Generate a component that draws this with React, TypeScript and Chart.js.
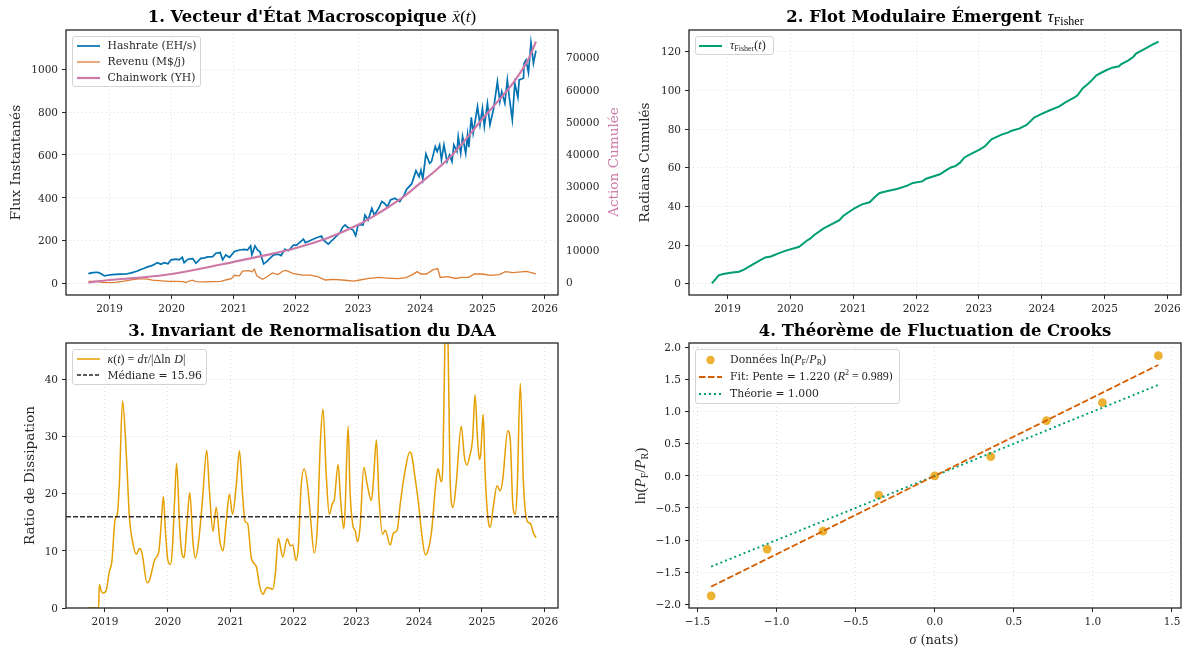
import { useEffect, useRef } from "react"
import type { ReactNode } from "react"
import { Chart, registerables } from "chart.js"

Chart.register(...registerables)

const SERIF = "'DejaVu Serif', serif"
const MATH = "'Liberation Serif', serif"
const INK = "#262626"

const yearTicks = [2019, 2020, 2021, 2022, 2023, 2024, 2025, 2026]

// Panel 1
const hashrateYears = [
  2018.66, 2018.73, 2018.81, 2018.85, 2018.92, 2018.97, 2019.05, 2019.16, 2019.27, 2019.35, 2019.45, 2019.49, 2019.56,
  2019.61, 2019.67, 2019.72, 2019.77, 2019.83, 2019.88, 2019.94, 2019.99, 2020.07, 2020.12, 2020.17, 2020.2, 2020.26,
  2020.34, 2020.39, 2020.47, 2020.53, 2020.58, 2020.66, 2020.71, 2020.78, 2020.82, 2020.87, 2020.93, 2021.01, 2021.09,
  2021.17, 2021.22, 2021.27, 2021.29, 2021.34, 2021.38, 2021.42, 2021.48, 2021.53, 2021.58, 2021.64, 2021.72, 2021.76,
  2021.82, 2021.88, 2021.96, 2022.01, 2022.12, 2022.15, 2022.23, 2022.31, 2022.41, 2022.44, 2022.52, 2022.6, 2022.71,
  2022.75, 2022.79, 2022.83, 2022.92, 2022.96, 2023.0, 2023.08, 2023.11, 2023.16, 2023.22, 2023.26, 2023.33, 2023.38,
  2023.42, 2023.47, 2023.52, 2023.59, 2023.67, 2023.74, 2023.78, 2023.86, 2023.89, 2023.93, 2023.98, 2024.01, 2024.04,
  2024.09, 2024.15, 2024.18, 2024.24, 2024.27, 2024.31, 2024.34, 2024.38, 2024.43, 2024.47, 2024.51, 2024.54, 2024.59,
  2024.61, 2024.65, 2024.68, 2024.73, 2024.76, 2024.78, 2024.82, 2024.85, 2024.92, 2024.96, 2025.0, 2025.03, 2025.08,
  2025.12, 2025.18, 2025.24, 2025.28, 2025.31, 2025.36, 2025.4, 2025.43, 2025.48, 2025.52, 2025.57, 2025.59, 2025.66,
  2025.67, 2025.7, 2025.74, 2025.78, 2025.82, 2025.86,
]
const hashrateValues = [
  47, 51, 53, 48, 36, 39, 42, 44, 45, 50, 59, 65, 72, 78, 83, 89, 98, 90, 98, 93, 111, 114, 111, 123, 98, 114, 117, 95,
  118, 120, 125, 126, 142, 145, 111, 134, 123, 150, 157, 160, 157, 176, 134, 176, 157, 149, 92, 103, 118, 134, 137, 131,
  160, 154, 180, 180, 208, 191, 201, 212, 222, 204, 184, 207, 238, 263, 274, 263, 250, 224, 274, 274, 320, 297, 351, 320,
  351, 383, 375, 359, 390, 398, 383, 414, 440, 465, 491, 527, 499, 530, 487, 605, 561, 569, 639, 616, 647, 577, 647, 569,
  600, 569, 647, 616, 686, 608, 686, 608, 694, 636, 776, 701, 826, 740, 818, 732, 841, 740, 818, 942, 849, 896, 841, 950,
  872, 764, 935, 869, 950, 958, 1028, 1043, 984, 1124, 1028, 1087,
]
const revenueYears = [
  2018.66, 2018.78, 2018.89, 2019.0, 2019.1, 2019.26, 2019.37, 2019.48, 2019.59, 2019.69, 2019.83, 2019.96, 2020.07,
  2020.19, 2020.22, 2020.33, 2020.39, 2020.55, 2020.66, 2020.79, 2020.87, 2020.96, 2021.01, 2021.09, 2021.14, 2021.24,
  2021.29, 2021.33, 2021.37, 2021.46, 2021.54, 2021.62, 2021.71, 2021.79, 2021.84, 2021.95, 2022.1, 2022.23, 2022.35,
  2022.47, 2022.6, 2022.75, 2022.93, 2023.03, 2023.15, 2023.33, 2023.46, 2023.64, 2023.77, 2023.86, 2023.95, 2024.01,
  2024.1, 2024.2, 2024.28, 2024.32, 2024.44, 2024.57, 2024.66, 2024.78, 2024.87, 2025.0, 2025.12, 2025.27, 2025.37,
  2025.49, 2025.71, 2025.86,
]
const revenueValues = [
  11, 11, 6, 5, 6, 13, 19, 22, 22, 16, 13, 11, 11, 9, 5, 16, 9, 8, 9, 11, 17, 23, 39, 36, 58, 61, 55, 67, 36, 20, 33, 50,
  42, 59, 62, 48, 40, 40, 33, 17, 20, 17, 12, 17, 23, 29, 26, 23, 28, 40, 56, 45, 45, 64, 70, 29, 33, 24, 29, 29, 45, 45,
  39, 42, 56, 51, 57, 45,
]
const chainworkYears = [
  2018.66, 2019, 2019.5, 2020, 2020.5, 2021, 2021.5, 2022, 2022.5, 2023, 2023.25, 2023.5, 2023.75, 2024, 2024.25, 2024.5,
  2024.75, 2025, 2025.25, 2025.5, 2025.75, 2025.86,
]
const chainworkValues = [
  50, 840, 1600, 2700, 4500, 6500, 8500, 10800, 13800, 18000, 20700, 23700, 27000, 31000, 35000, 39500, 45000, 51000,
  56500, 62300, 70000, 75000,
]

// Panel 2
const fisherYears = [
  2018.75, 2018.79, 2018.86, 2018.93, 2019.05, 2019.18, 2019.27, 2019.39, 2019.48, 2019.6, 2019.69, 2019.81, 2019.93,
  2020.14, 2020.26, 2020.32, 2020.38, 2020.53, 2020.78, 2020.84, 2021.02, 2021.14, 2021.26, 2021.35, 2021.42, 2021.53,
  2021.71, 2021.86, 2021.95, 2022.1, 2022.16, 2022.38, 2022.5, 2022.56, 2022.62, 2022.7, 2022.77, 2022.86, 2023.01,
  2023.1, 2023.2, 2023.37, 2023.46, 2023.52, 2023.64, 2023.76, 2023.88, 2023.98, 2024.13, 2024.28, 2024.37, 2024.52,
  2024.57, 2024.65, 2024.76, 2024.87, 2025.0, 2025.12, 2025.23, 2025.26, 2025.38, 2025.46, 2025.5, 2025.61, 2025.76,
  2025.86,
]
const fisherValues = [
  0.2, 1.6, 4.3, 5, 5.7, 6.2, 7.4, 9.7, 11.4, 13.6, 14.1, 15.7, 17.1, 19.1, 22.2, 23.4, 25.2, 28.6, 32.9, 35, 39, 41,
  42.1, 45, 46.9, 47.8, 49.1, 50.7, 52.1, 52.9, 54.3, 56.6, 59.1, 60.2, 60.7, 62.6, 65.3, 66.9, 69.3, 71.2, 74.7, 77.2,
  78.1, 79.1, 80.2, 82.1, 85.9, 87.6, 89.7, 91.7, 93.6, 96.4, 97.4, 101, 104, 107.8, 110, 111.7, 112.4, 113.4, 115.5,
  117.4, 119, 120.9, 123.6, 125.2,
]

// Panel 3
const kappaYears = [
  2018.73, 2018.9, 2018.91, 2018.94, 2018.97, 2019.02, 2019.07, 2019.11, 2019.16, 2019.2, 2019.23, 2019.28, 2019.34,
  2019.39, 2019.43, 2019.5, 2019.55, 2019.59, 2019.67, 2019.71, 2019.79, 2019.86, 2019.89, 2019.93, 2019.96, 2020.0,
  2020.04, 2020.07, 2020.11, 2020.14, 2020.19, 2020.22, 2020.26, 2020.3, 2020.35, 2020.4, 2020.44, 2020.49, 2020.55,
  2020.62, 2020.66, 2020.72, 2020.77, 2020.83, 2020.88, 2020.93, 2020.98, 2021.03, 2021.09, 2021.14, 2021.19, 2021.23,
  2021.27, 2021.33, 2021.41, 2021.46, 2021.51, 2021.58, 2021.67, 2021.71, 2021.76, 2021.83, 2021.9, 2021.95, 2021.99,
  2022.04, 2022.08, 2022.12, 2022.17, 2022.23, 2022.27, 2022.33, 2022.38, 2022.43, 2022.47, 2022.52, 2022.57, 2022.62,
  2022.65, 2022.71, 2022.75, 2022.8, 2022.82, 2022.87, 2022.9, 2022.95, 2022.98, 2023.02, 2023.06, 2023.12, 2023.17,
  2023.24, 2023.27, 2023.32, 2023.36, 2023.42, 2023.46, 2023.54, 2023.59, 2023.65, 2023.7, 2023.77, 2023.85, 2023.88,
  2023.94, 2023.99, 2024.04, 2024.1, 2024.15, 2024.2, 2024.26, 2024.3, 2024.35, 2024.38, 2024.41, 2024.43, 2024.46,
  2024.49, 2024.54, 2024.59, 2024.67, 2024.72, 2024.76, 2024.81, 2024.85, 2024.89, 2024.93, 2024.96, 2024.98, 2025.02,
  2025.05, 2025.11, 2025.13, 2025.18, 2025.24, 2025.29, 2025.33, 2025.41, 2025.45, 2025.49, 2025.53, 2025.56, 2025.61,
  2025.66, 2025.72, 2025.77, 2025.82, 2025.86,
]
const kappaValues = [
  0, 0, 4.1, 3, 2.6, 3.1, 6.4, 8.1, 15.4, 16.6, 22, 36.2, 26.8, 15.7, 12.2, 9.4, 10.4, 9.6, 4.4, 4.9, 8.4, 10.1, 13.9,
  19.5, 13.9, 8.4, 7.6, 9.9, 19.2, 25.3, 13.9, 9.9, 8.8, 13.9, 20.2, 11.6, 8.7, 11.6, 18.6, 27.6, 20.9, 13.4, 17.6, 11.6,
  10, 15.1, 19.9, 16.4, 21.5, 27.5, 19.8, 15.1, 14.8, 8.7, 7.2, 4, 2.4, 3.6, 3.3, 5.8, 12.2, 8.9, 12.1, 10.9, 11, 8.3,
  11, 20.9, 24.3, 20.9, 16, 9.6, 14.2, 29.4, 34.8, 23.6, 16.4, 18.3, 18.9, 25.1, 18.9, 13.9, 16.6, 31.8, 20.6, 14.2,
  13.6, 11.6, 14.2, 24.6, 21.8, 18.8, 21.8, 29.4, 19.5, 12.9, 13.6, 11, 13.1, 13.6, 18.3, 23.6, 27.3, 26.8, 22.4, 18.3,
  13.1, 9.3, 10.4, 13.6, 21.2, 24.4, 22.1, 25.9, 46.3, 49, 46.3, 23.6, 17.6, 21.8, 31.8, 26.5, 25, 26.8, 29.4, 37.3,
  29.4, 26, 27, 33.9, 23.6, 14.5, 14.1, 17.7, 21.4, 20.5, 22.4, 31, 29.4, 18.3, 16.4, 20.6, 39.3, 21.8, 15.2, 14.8, 13.1,
  12.3,
]
const medianYears = [2018.38, 2026.21]
const medianValues = [15.96, 15.96]

// Panel 4
const sigmaValues = [-1.414, -1.06, -0.707, -0.354, 0, 0.354, 0.707, 1.06, 1.414]
const crooksValues = [-1.87, -1.14, -0.86, -0.3, 0, 0.3, 0.86, 1.14, 1.87]
const lineSigma = [-1.414, 1.414]
const fitValues = [-1.725, 1.725]
const theoryValues = [-1.414, 1.414]

const pairs = (xs: number[], ys: number[]) => xs.map((x, i) => ({ x, y: ys[i] }))
const minus = (s: string) => s.replace("-", "\u2212")

const framePlugin = {
  id: "frame",
  afterDatasetsDraw(chart: any) {
    const { ctx, chartArea: a } = chart
    ctx.save()
    ctx.strokeStyle = INK
    ctx.lineWidth = 1.3
    ctx.strokeRect(a.left, a.top, a.right - a.left, a.bottom - a.top)
    ctx.restore()
  },
}

const tickFont = { family: SERIF, size: 10.5 }
const gridStyle = { color: "rgba(0,0,0,0.13)", lineWidth: 1, tickColor: INK, tickLength: 4, tickBorderDash: [] as number[] }
const borderStyle = { display: false, dash: [1, 3] }

function xYearAxis(min: number, max: number, canvasH: number, bottom: number) {
  return {
    type: "linear",
    min,
    max,
    grid: gridStyle,
    border: borderStyle,
    ticks: { color: INK, font: tickFont, padding: 4, maxRotation: 0, callback: (v: any) => String(v) },
    afterBuildTicks: (s: any) => {
      s.ticks = yearTicks.map((value) => ({ value }))
    },
    afterFit: (s: any) => {
      s.height = canvasH - bottom
    },
  }
}

function yAxis(min: number, max: number, ticks: number[], width: number, title?: any, right = false, fmt?: (v: number) => string) {
  return {
    type: "linear",
    position: right ? "right" : "left",
    min,
    max,
    grid: right ? { display: false, drawOnChartArea: false, tickColor: INK, tickLength: 4 } : gridStyle,
    border: right ? { display: false } : borderStyle,
    title,
    ticks: { color: INK, font: tickFont, padding: 4, labelOffset: 1, callback: (v: any) => (fmt ? fmt(v) : String(v)) },
    afterBuildTicks: (s: any) => {
      s.ticks = ticks.map((value) => ({ value }))
    },
    afterFit: (s: any) => {
      s.width = width
    },
  }
}

const axisTitle = (text: string, pad: number) => ({
  display: true,
  text,
  color: INK,
  font: { family: SERIF, size: 13.6 },
  padding: { top: pad, bottom: 0 },
})

function ChartCanvas({ left, top, width, height, make }: { left: number; top: number; width: number; height: number; make: () => any }) {
  const ref = useRef<HTMLCanvasElement>(null)
  useEffect(() => {
    if (!ref.current) return
    const chart = new Chart(ref.current, make())
    return () => chart.destroy()
  }, [])
  return <canvas ref={ref} width={width} height={height} style={{ position: "absolute", left, top, width, height }} />
}

function Title({ cx, y, children }: { cx: number; y: number; children: ReactNode }) {
  return (
    <div
      style={{
        position: "absolute",
        left: cx - 300,
        width: 600,
        top: y - 11.5,
        height: 24,
        lineHeight: "24px",
        textAlign: "center",
        fontFamily: SERIF,
        fontWeight: 700,
        fontSize: 16.4,
        color: "#000",
        whiteSpace: "nowrap",
      }}
    >
      {children}
    </div>
  )
}

const M = ({ children, size }: { children: ReactNode; size?: number }) => (
  <span style={{ fontFamily: MATH, fontWeight: 400, fontStyle: "italic", fontSize: size }}>{children}</span>
)
const Up = ({ children, size }: { children: ReactNode; size?: number }) => (
  <span style={{ fontFamily: MATH, fontWeight: 400, fontStyle: "normal", fontSize: size }}>{children}</span>
)
const Sub = ({ children, size = 9 }: { children: ReactNode; size?: number }) => (
  <span style={{ fontFamily: MATH, fontWeight: 400, fontStyle: "normal", fontSize: size, position: "relative", top: "0.25em" }}>{children}</span>
)

type Row = { label: ReactNode; color?: string; w?: number; dash?: string; dot?: boolean; alpha?: number }

function Legend({ left, top, width, rows, step, sample = 23 }: { left: number; top: number; width: number; rows: Row[]; step: number; sample?: number }) {
  const pad = 9
  return (
    <div
      style={{
        position: "absolute",
        left,
        top,
        width,
        height: rows.length * step + 3,
        boxSizing: "border-box",
        background: "rgba(255,255,255,0.85)",
        border: "1px solid #d4d4d4",
        borderRadius: 3,
        fontFamily: SERIF,
        fontSize: 10.8,
        color: INK,
      }}
    >
      {rows.map((r, i) => (
        <div key={i} style={{ position: "absolute", left: 0, right: 0, top: 1 + i * step, height: step, display: "flex", alignItems: "center", whiteSpace: "nowrap" }}>
          <svg width={sample} height={10} style={{ marginLeft: 3.5, marginRight: pad - 1, flex: "none" }}>
            {r.dot ? (
              <circle cx={sample / 2} cy={5} r={4.2} fill={r.color} fillOpacity={0.8} />
            ) : (
              <line x1={0} x2={sample} y1={5} y2={5} stroke={r.color} strokeWidth={r.w} strokeDasharray={r.dash} strokeOpacity={r.alpha ?? 1} />
            )}
          </svg>
          <span>{r.label}</span>
        </div>
      ))}
    </div>
  )
}

export default function App() {
  const panel1 = () => ({
    type: "line",
    data: {
      datasets: [
        { label: "Hashrate (EH/s)", data: pairs(hashrateYears, hashrateValues), borderColor: "#0072B2", borderWidth: 1.7, pointRadius: 0, yAxisID: "y", order: 1 },
        { label: "Revenu (M$/j)", data: pairs(revenueYears, revenueValues), borderColor: "rgba(213,94,0,0.8)", borderWidth: 1.3, pointRadius: 0, yAxisID: "y", order: 2 },
        { label: "Chainwork (YH)", data: pairs(chainworkYears, chainworkValues), borderColor: "#CC79A7", borderWidth: 2.2, pointRadius: 0, yAxisID: "y1", order: 0, cubicInterpolationMode: "monotone" },
      ],
    },
    options: {
      animation: false,
      responsive: false,
      layout: { padding: { top: 30, right: 0, left: 0, bottom: 0 } },
      plugins: { legend: { display: false }, title: { display: false }, tooltip: { enabled: false } },
      scales: {
        x: xYearAxis(2018.3, 2026.215, 320, 295),
        y: yAxis(-53, 1183, [0, 200, 400, 600, 800, 1000], 66, axisTitle("Flux Instantanés", 8)),
        y1: yAxis(-3827, 78620, [0, 10000, 20000, 30000, 40000, 50000, 60000, 70000], 67, undefined, true),
      },
    },
    plugins: [framePlugin],
  })

  const panel2 = () => ({
    type: "line",
    data: {
      datasets: [{ label: "tau", data: pairs(fisherYears, fisherValues), borderColor: "#009E73", borderWidth: 2, pointRadius: 0 }],
    },
    options: {
      animation: false,
      responsive: false,
      layout: { padding: { top: 30, right: 14, left: 0, bottom: 0 } },
      plugins: { legend: { display: false }, title: { display: false }, tooltip: { enabled: false } },
      scales: {
        x: xYearAxis(2018.387, 2026.216, 320, 295),
        y: yAxis(-5.85, 131.2, [0, 20, 40, 60, 80, 100, 120], 64, axisTitle("Radians Cumulés", 12)),
      },
    },
    plugins: [framePlugin],
  })

  const panel3 = () => ({
    type: "line",
    data: {
      datasets: [
        { label: "kappa", data: pairs(kappaYears, kappaValues), borderColor: "#E69F00", borderWidth: 1.5, pointRadius: 0, order: 1, cubicInterpolationMode: "monotone" },
        { label: "Médiane = 15.96", data: pairs(medianYears, medianValues), borderColor: "rgba(0,0,0,0.8)", borderWidth: 1.4, borderDash: [5, 2], pointRadius: 0, order: 0 },
      ],
    },
    options: {
      animation: false,
      responsive: false,
      layout: { padding: { top: 23, right: 67, left: 0, bottom: 0 } },
      plugins: { legend: { display: false }, title: { display: false }, tooltip: { enabled: false } },
      scales: {
        x: xYearAxis(2018.38, 2026.21, 332, 288),
        y: yAxis(0, 46.35, [0, 10, 20, 30, 40], 66, axisTitle("Ratio de Dissipation", 22)),
      },
    },
    plugins: [framePlugin],
  })

  const panel4 = () => ({
    type: "scatter",
    data: {
      datasets: [
        { label: "Données", data: pairs(sigmaValues, crooksValues), backgroundColor: "rgba(230,159,0,0.8)", borderWidth: 0, pointRadius: 4.4, order: 2 },
        { label: "Fit", data: pairs(lineSigma, fitValues), showLine: true, borderColor: "#D55E00", borderWidth: 1.8, borderDash: [6.5, 2.5], pointRadius: 0, order: 0 },
        { label: "Théorie", data: pairs(lineSigma, theoryValues), showLine: true, borderColor: "#009E73", borderWidth: 1.9, borderDash: [2, 3], pointRadius: 0, order: 1 },
      ],
    },
    options: {
      animation: false,
      responsive: false,
      layout: { padding: { top: 23, right: 14, left: 0, bottom: 0 } },
      plugins: { legend: { display: false }, title: { display: false }, tooltip: { enabled: false } },
      scales: {
        x: {
          type: "linear",
          min: -1.554,
          max: 1.557,
          grid: gridStyle,
          border: borderStyle,
          ticks: { color: INK, font: tickFont, padding: 4, maxRotation: 0, callback: (v: any) => minus(Number(v).toFixed(1)) },
          afterBuildTicks: (s: any) => {
            s.ticks = [-1.5, -1, -0.5, 0, 0.5, 1, 1.5].map((value) => ({ value }))
          },
          afterFit: (s: any) => {
            s.height = 332 - 288
          },
        },
        y: yAxis(-2.058, 2.067, [-2, -1.5, -1, -0.5, 0, 0.5, 1, 1.5, 2], 64, undefined, false, (v) => minus(v.toFixed(1))),
      },
    },
    plugins: [framePlugin],
  })

  return (
    <div style={{ position: "absolute", left: 0, top: 0, width: 1195, height: 652, background: "#fff", overflow: "hidden" }}>
      <ChartCanvas left={0} top={0} width={625} height={320} make={panel1} />
      <ChartCanvas left={625} top={0} width={570} height={320} make={panel2} />
      <ChartCanvas left={0} top={320} width={625} height={332} make={panel3} />
      <ChartCanvas left={625} top={320} width={570} height={332} make={panel4} />

      <Title cx={312} y={16}>
        1. Vecteur d'État Macroscopique{" "}
        <span style={{ position: "relative", display: "inline-block" }}>
          <M size={17}>x</M>
          <span style={{ position: "absolute", left: -1, top: 1, width: "120%", height: 8, lineHeight: "8px", textAlign: "center", fontFamily: MATH, fontWeight: 400, fontSize: 9 }}>→</span>
        </span>
        <Up size={17}>(</Up>
        <M size={17}>t</M>
        <Up size={17}>)</Up>
      </Title>
      <Title cx={935} y={16}>
        2. Flot Modulaire Émergent <M size={17}>τ</M>
        <Sub size={12}>Fisher</Sub>
      </Title>
      <Title cx={312} y={330}>3. Invariant de Renormalisation du DAA</Title>
      <Title cx={935} y={330}>4. Théorème de Fluctuation de Crooks</Title>

      <Legend
        left={72}
        top={35.5}
        width={129}
        step={16}
        rows={[
          { label: "Hashrate (EH/s)", color: "#0072B2", w: 1.7 },
          { label: "Revenu (M$/j)", color: "#D55E00", w: 1.3, alpha: 0.8 },
          { label: "Chainwork (YH)", color: "#CC79A7", w: 2.2 },
        ]}
      />
      <Legend
        left={694.5}
        top={35.5}
        width={79}
        step={16.5}
        rows={[
          {
            label: (
              <span style={{ fontSize: 12 }}>
                <M>τ</M>
                <Sub size={8}>Fisher</Sub>
                <Up>(</Up>
                <M>t</M>
                <Up>)</Up>
              </span>
            ),
            color: "#009E73",
            w: 2,
          },
        ]}
      />
      <Legend
        left={72}
        top={349}
        width={135}
        step={16.3}
        rows={[
          {
            label: (
              <span style={{ fontSize: 12 }}>
                <M>κ</M>
                <Up>(</Up>
                <M>t</M>
                <Up>) = </Up>
                <M>dτ</M>
                <Up>/|Δln</Up> <M>D</M>
                <Up>|</Up>
              </span>
            ),
            color: "#E69F00",
            w: 1.5,
          },
          { label: "Médiane = 15.96", color: "#000", w: 1.4, dash: "4,2", alpha: 0.85 },
        ]}
      />
      <Legend
        left={694.5}
        top={349}
        width={205}
        step={17.2}
        rows={[
          {
            label: (
              <>
                Données{" "}
                <span style={{ fontSize: 12 }}>
                  <Up>ln(</Up>
                  <M>P</M>
                  <Sub size={8}>F</Sub>
                  <Up>/</Up>
                  <M>P</M>
                  <Sub size={8}>R</Sub>
                  <Up>)</Up>
                </span>
              </>
            ),
            color: "#E69F00",
            dot: true,
          },
          {
            label: (
              <>
                Fit: Pente = 1.220 (
                <span style={{ fontSize: 12 }}>
                  <M>R</M>
                  <sup style={{ fontFamily: MATH, fontSize: 8, lineHeight: 0 }}>2</sup>
                  <Up> = 0.989</Up>
                </span>
                )
              </>
            ),
            color: "#D55E00",
            w: 1.8,
            dash: "6.5,2.5",
          },
          { label: "Théorie = 1.000", color: "#009E73", w: 1.9, dash: "2,3" },
        ]}
      />

      {/* the right scale title would read downwards, so these three are plain DOM */}
      <div
        style={{
          position: "absolute",
          left: 613 - 70,
          width: 140,
          top: 162 - 10,
          height: 20,
          lineHeight: "20px",
          textAlign: "center",
          transform: "rotate(-90deg)",
          fontFamily: SERIF,
          fontSize: 13.6,
          color: "#CC79A7",
          whiteSpace: "nowrap",
        }}
      >
        Action Cumulée
      </div>
      <div
        style={{
          position: "absolute",
          left: 640 - 60,
          width: 120,
          top: 476 - 10,
          height: 20,
          lineHeight: "20px",
          textAlign: "center",
          transform: "rotate(-90deg)",
          fontSize: 15,
          color: INK,
          whiteSpace: "nowrap",
        }}
      >
        <Up>ln(</Up>
        <M>P</M>
        <Sub size={10}>F</Sub>
        <Up>/</Up>
        <M>P</M>
        <Sub size={10}>R</Sub>
        <Up>)</Up>
      </div>
      <div style={{ position: "absolute", left: 874, width: 120, top: 630, height: 20, lineHeight: "20px", textAlign: "center", fontFamily: SERIF, fontSize: 13, color: INK, whiteSpace: "nowrap" }}>
        <M size={14}>σ</M> (nats)
      </div>
    </div>
  )
}
